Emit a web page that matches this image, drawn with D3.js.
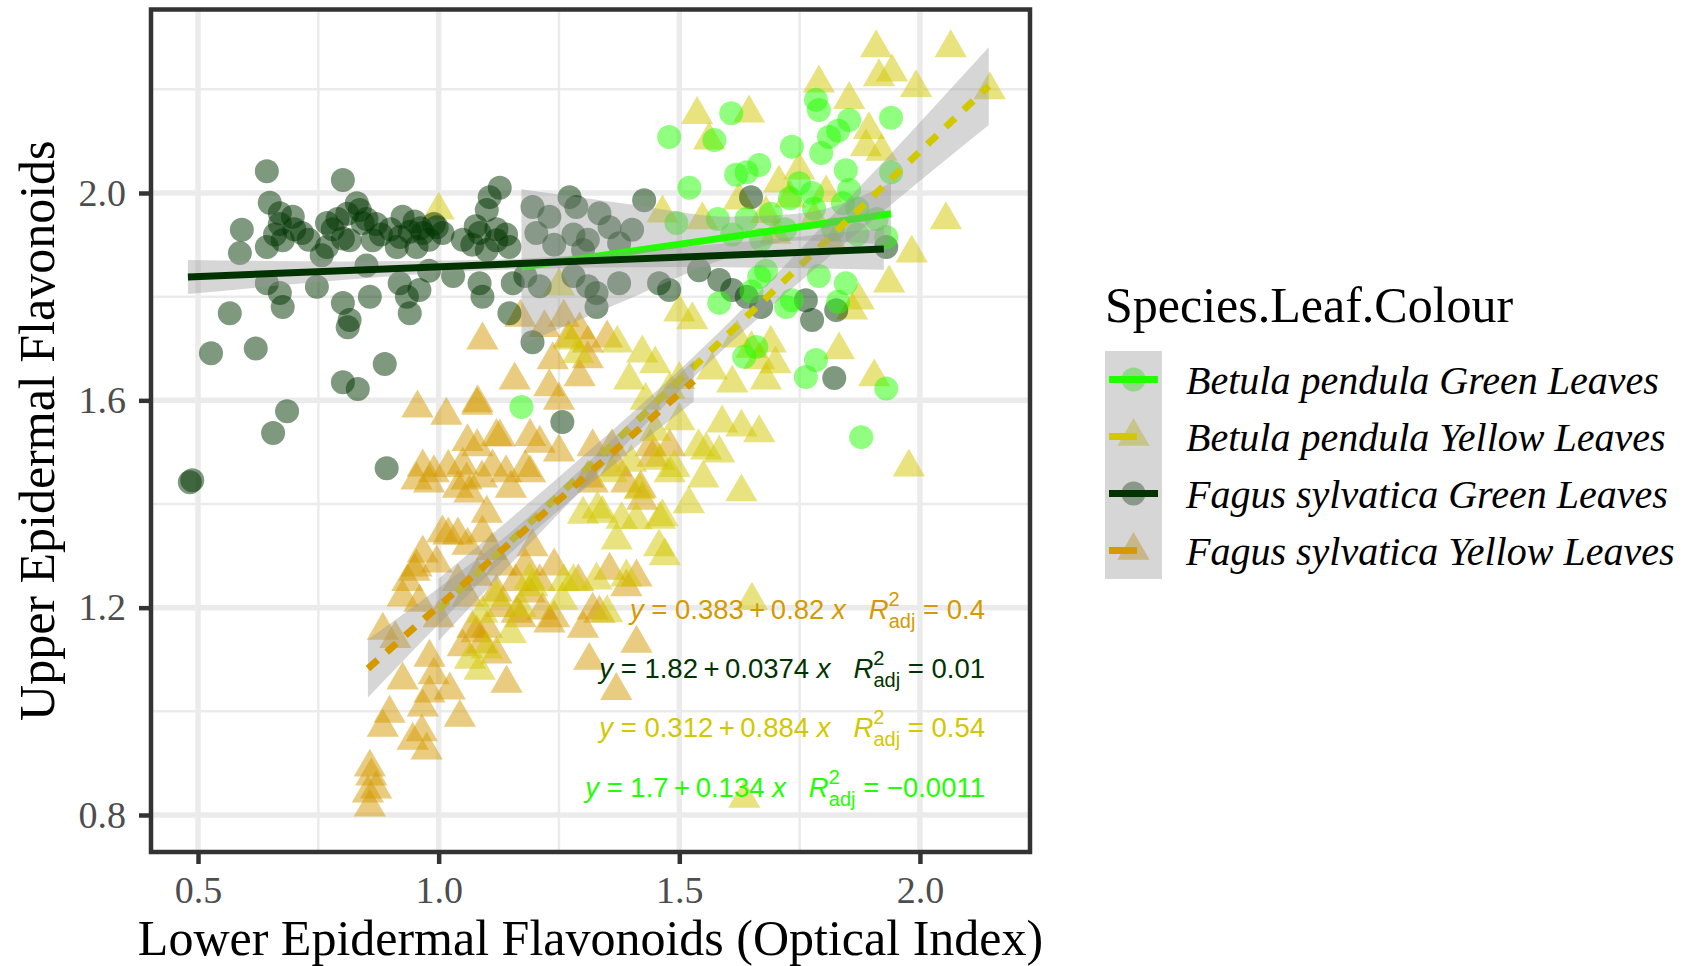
<!DOCTYPE html>
<html>
<head>
<meta charset="utf-8">
<script src="https://cdn.jsdelivr.net/npm/d3@7"></script>
<style>
  html, body { margin: 0; padding: 0; background: #ffffff; }
  svg { display: block; }
</style>
</head>
<body>
<svg id="chart" width="1683" height="966"></svg>
<script>
// ---- series definitions ----
const seriesNames = [
  "Betula pendula Green Leaves",
  "Betula pendula Yellow Leaves",
  "Fagus sylvatica Green Leaves",
  "Fagus sylvatica Yellow Leaves"
];
const legendTitle = "Species.Leaf.Colour";
const xTitle = "Lower Epidermal Flavonoids (Optical Index)";
const yTitle = "Upper Epidermal Flavonoids";

const xTicks = [0.5, 1.0, 1.5, 2.0];
const yTicks = [0.8, 1.2, 1.6, 2.0];
const xMinorTicks = [0.75, 1.25, 1.75];
const yMinorTicks = [1.0, 1.4, 1.8, 2.2];

// linear fits: y = intercept + slope * x
const fitIntercept = [1.7, 0.312, 1.82, 0.383];
const fitSlope = [0.134, 0.884, 0.0374, 0.82];
const fitR2 = ["\u22120.0011", "0.54", "0.01", "0.4"];
const fitXRange = [[1.172, 1.94], [1.0, 2.143], [0.479, 1.925], [0.853, 1.53]];

// confidence band half-widths at sampled x positions
const bandX = [
  [1.172, 1.4, 1.6, 1.75, 1.94],
  [1.0, 1.25, 1.55, 1.85, 2.143],
  [0.479, 0.8, 1.1, 1.5, 1.925],
  [0.853, 1.0, 1.15, 1.35, 1.53]
];
const bandHalf = [
  [0.15, 0.09, 0.04, 0.026, 0.06],
  [0.06, 0.035, 0.02, 0.04, 0.075],
  [0.033, 0.018, 0.01, 0.019, 0.04],
  [0.056, 0.035, 0.02, 0.025, 0.04]
];

// observations [lower, upper]
const betulaGreen = [
  [1.172,1.587],[1.479,2.108],[1.608,2.154],[1.573,2.102],[1.521,2.010],[1.618,2.035],[1.640,2.040],
  [1.666,2.054],[1.734,2.089],[1.790,2.160],[1.784,2.180],[1.811,2.108],[1.853,2.141],[1.830,2.120],
  [1.795,2.077],[1.940,2.145],[1.846,2.044],[1.749,2.019],[1.776,2.000],[1.853,2.006],[1.494,1.942],
  [1.666,1.838],[1.846,1.826],[1.583,1.788],[1.734,1.793],[1.930,1.915],[1.660,1.703],[1.635,1.684],
  [1.784,1.678],[1.763,1.645],[1.930,1.623],[1.878,1.529],[1.722,1.780],
  [1.580,1.950],[1.640,1.950],[1.690,1.960],[1.730,1.990],[1.780,1.970],[1.840,1.980],[1.870,1.970],
  [1.910,1.950],[1.610,1.920],[1.670,1.910],[1.720,1.930],[1.820,1.930],[1.870,1.920],[1.650,1.810],
  [1.680,1.850],[1.790,1.840],[1.830,1.790],[1.940,2.040]
];

const betulaYellow = [
  [1.909,2.280],[2.064,2.280],[1.537,2.151],[1.645,2.154],[1.562,2.102],[1.790,2.212],[1.915,2.224],
  [1.942,2.233],[1.992,2.203],[1.853,2.180],[1.894,2.122],[1.888,2.089],[1.920,2.080],[2.145,2.199],
  [2.054,1.948],[1.983,1.884],[1.936,1.826],[1.873,1.793],[1.707,2.019],[1.749,2.044],[1.624,1.986],
  [1.465,1.961],[1.548,1.948],[1.730,1.990],[1.805,2.000],[1.527,1.755],[1.500,1.770],
  [1.859,1.774],[1.832,1.697],[1.905,1.645],[1.589,1.556],[1.629,1.548],[1.666,1.537],[1.556,1.504],
  [1.583,1.498],[1.977,1.471],[1.629,1.423],[1.423,1.691],[1.371,1.710],[1.396,1.639],[1.450,1.670],
  [1.500,1.640],[1.568,1.658],[1.610,1.633],[1.680,1.639],[1.666,1.678],[1.700,1.670],[1.458,1.484],
  [1.480,1.460],[1.417,1.427],[1.465,1.375],[1.411,1.369],[1.340,1.382],[1.300,1.380],[1.458,1.317],
  [1.370,1.330],[1.390,1.259],[1.328,1.253],[1.651,1.214],[1.272,1.716],[1.290,1.690],[1.189,1.253],
  [1.260,1.250],[1.091,1.189],[1.085,1.079],[1.065,1.100],[1.195,1.240],[1.257,1.214],[1.635,0.832],
  [1.000,1.967],[1.360,1.460],[1.330,1.390],[1.380,1.370],[1.460,1.370],[1.470,1.300],[1.280,1.250],
  [1.170,1.200],[1.350,1.190],[1.540,1.510],[1.490,1.470],[1.400,1.480],[1.680,1.960],[1.780,1.950],
  [1.700,1.920],[1.820,1.900],[1.620,1.720],[1.650,1.700],[1.690,1.710],[1.500,1.560],[1.520,1.400],
  [1.550,1.450],[1.450,1.540],[1.430,1.600],[1.480,1.620],[1.120,1.220],[1.150,1.150],[1.100,1.120],
  [1.250,1.820]
];

const fagusGreen = [
  [0.643,2.042],[0.801,2.025],[1.127,2.010],[1.106,1.992],[0.649,1.981],[0.670,1.961],[0.697,1.954],
  [0.591,1.929],[0.716,1.923],[0.768,1.942],[0.836,1.967],[0.842,1.942],[0.815,1.909],[0.863,1.909],
  [0.925,1.954],[0.967,1.923],[0.996,1.934],[1.008,1.923],[0.954,1.896],[0.913,1.896],[1.100,1.967],
  [1.085,1.923],[1.120,1.909],[1.147,1.896],[1.077,1.936],[0.587,1.884],[0.643,1.896],[0.676,1.909],
  [0.768,1.896],[0.801,1.912],[0.757,1.880],
  [0.900,1.930],[0.920,1.915],[0.940,1.925],[0.950,1.945],[0.962,1.932],[0.980,1.910],[0.990,1.940],
  [0.880,1.920],[0.870,1.940],[0.780,1.930],[0.790,1.950],[0.810,1.960],[0.830,1.980],[0.850,1.950],
  [1.050,1.910],[1.070,1.900],[1.100,1.890],[1.120,1.930],[1.140,1.920],[0.700,1.930],[0.730,1.910],
  [0.660,1.920],[0.670,1.940],
  [0.643,1.826],[0.670,1.807],[0.676,1.780],[0.566,1.768],[0.747,1.819],[0.801,1.788],[0.815,1.755],
  [0.857,1.800],[0.919,1.826],[0.934,1.800],[0.940,1.768],[0.960,1.813],[1.085,1.826],[1.091,1.800],
  [1.154,1.826],[1.147,1.768],[0.980,1.850],[1.030,1.840],[0.850,1.860],
  [0.811,1.741],[1.195,1.712],[0.527,1.691],[0.620,1.700],[0.888,1.670],[0.801,1.635],[0.832,1.622],
  [0.685,1.579],[0.656,1.537],[0.892,1.469],[0.483,1.442],[0.488,1.446],[1.257,1.558],
  [1.195,1.973],[1.272,1.992],[1.230,1.954],[1.203,1.923],[1.280,1.920],[1.240,1.900],[1.300,1.890],
  [1.427,1.986],[1.286,1.973],[1.334,1.961],[1.355,1.934],[1.402,1.929],[1.310,1.910],[1.375,1.903],
  [1.328,1.807],[1.375,1.826],[1.458,1.826],[1.479,1.813],[1.541,1.851],[1.583,1.832],[1.610,1.813],
  [1.649,1.992],[1.763,1.793],[1.776,1.755],[1.826,1.774],[1.930,1.896],[1.328,1.780],[1.822,1.643],
  [1.640,1.800],[1.670,1.780],[1.280,1.840],[1.310,1.820],[1.180,1.840],[1.210,1.820]
];

const fagusYellow = [
  [1.091,1.716],[1.158,1.639],[1.081,1.595],[0.956,1.585],[1.016,1.571],[1.127,1.529],[1.060,1.520],
  [0.967,1.471],[0.990,1.460],[1.050,1.475],[1.112,1.471],[1.140,1.460],[1.237,1.678],[1.230,1.626],
  [1.250,1.600],[0.954,1.446],[1.058,1.446],[1.090,1.450],[1.190,1.460],[1.064,1.421],[1.100,1.382],
  [1.210,1.517],[1.190,1.530],[1.250,1.500],[1.008,1.344],[1.040,1.340],[0.967,1.305],[0.996,1.286],
  [0.954,1.278],[1.091,1.344],[1.110,1.310],[1.195,1.317],[1.180,1.280],[1.240,1.280],[0.925,1.220],
  [1.120,1.230],[1.189,1.228],[1.216,1.195],
  [1.369,1.471],[1.444,1.490],[1.480,1.510],[1.420,1.430],[1.293,1.645],[1.270,1.720],[1.293,1.736],
  [1.310,1.680],[1.350,1.720],[1.320,1.440],[1.390,1.440],[1.423,1.407],[1.290,1.250],[1.355,1.272],
  [1.411,1.259],[1.334,1.189],
  [0.884,1.156],[0.910,1.140],[0.981,1.104],[0.925,1.060],[0.898,0.996],[0.884,0.969],[0.967,1.008],
  [0.981,1.035],[0.990,1.070],[1.023,1.041],[1.044,0.988],[0.946,0.944],[0.975,0.925],[0.965,0.960],
  [0.857,0.892],[0.860,0.875],[0.853,0.842],[0.857,0.815],[0.870,0.850],[1.050,1.124],[1.079,1.151],
  [1.100,1.160],[1.141,1.054],[1.162,1.189],[1.230,1.170],[0.935,1.250],[0.950,1.270],
  [1.390,1.240],[1.320,1.195],[1.411,1.131],[1.313,1.098],[1.369,1.040],
  [1.080,1.590],[1.120,1.530],[1.080,1.510],[1.020,1.470],[1.180,1.470],[0.980,1.440],[1.040,1.430],
  [1.150,1.430],[1.320,1.510],[1.360,1.510],[1.440,1.510],[1.310,1.450],[1.020,1.340],[1.060,1.320],
  [1.040,1.250],[1.080,1.260],[1.130,1.280],[1.160,1.250],[0.960,1.210],[1.000,1.180],[1.060,1.220],
  [1.130,1.200],[1.170,1.180],[1.240,1.180],[1.210,1.250],[1.070,1.160],[1.090,1.130],[1.120,1.110],
  [1.300,1.160],[1.220,1.740],[1.260,1.760],[1.310,1.710],[1.170,1.760]
];

const seriesPoints = [betulaGreen, betulaYellow, fagusGreen, fagusYellow];
const seriesColors = ["#22ff00", "#d2c800", "#003300", "#d49a00"];
const seriesShapes = ["circle", "triangle", "circle", "triangle"];
const seriesDashed = [false, true, false, true];

// ---- layout ----
const panel = { left: 151, right: 1030, top: 9.5, bottom: 852 };
const serif = "'Liberation Serif', 'Times New Roman', serif";
const sans = "'Liberation Sans', Arial, sans-serif";

const svg = d3.select("#chart");

const x = d3.scaleLinear().domain([0.4023, 2.2287]).range([panel.left, panel.right]);
const y = d3.scaleLinear().domain([0.7286, 2.354]).range([panel.bottom, panel.top]);

svg.append("defs").append("clipPath").attr("id", "panelClip")
  .append("rect")
  .attr("x", panel.left).attr("y", panel.top)
  .attr("width", panel.right - panel.left).attr("height", panel.bottom - panel.top);

// ---- grid ----
const grid = svg.append("g").attr("clip-path", "url(#panelClip)");
grid.selectAll("line.xminor").data(xMinorTicks).join("line")
  .attr("x1", d => x(d)).attr("x2", d => x(d))
  .attr("y1", panel.top).attr("y2", panel.bottom)
  .attr("stroke", "#ebebeb").attr("stroke-width", 2.5);
grid.selectAll("line.yminor").data(yMinorTicks).join("line")
  .attr("y1", d => y(d)).attr("y2", d => y(d))
  .attr("x1", panel.left).attr("x2", panel.right)
  .attr("stroke", "#ebebeb").attr("stroke-width", 2.5);
grid.selectAll("line.xmajor").data(xTicks).join("line")
  .attr("x1", d => x(d)).attr("x2", d => x(d))
  .attr("y1", panel.top).attr("y2", panel.bottom)
  .attr("stroke", "#ebebeb").attr("stroke-width", 5.5);
grid.selectAll("line.ymajor").data(yTicks).join("line")
  .attr("y1", d => y(d)).attr("y2", d => y(d))
  .attr("x1", panel.left).attr("x2", panel.right)
  .attr("stroke", "#ebebeb").attr("stroke-width", 5.5);

// ---- points ----
const triangle = d3.symbol().type(d3.symbolTriangle).size(450);
const plot = svg.append("g").attr("clip-path", "url(#panelClip)");
const drawOrder = [3, 1, 2, 0];
drawOrder.forEach(i => {
  const g = plot.append("g").attr("fill", seriesColors[i]).attr("fill-opacity", 0.5);
  if (seriesShapes[i] === "circle") {
    g.selectAll("circle").data(seriesPoints[i]).join("circle")
      .attr("cx", d => x(d[0])).attr("cy", d => y(d[1])).attr("r", 12);
  } else {
    g.selectAll("path").data(seriesPoints[i]).join("path")
      .attr("d", triangle)
      .attr("transform", d => `translate(${x(d[0])},${y(d[1])})`);
  }
});

// ---- fitted lines with confidence bands ----
const fit = i => v => fitIntercept[i] + fitSlope[i] * v;
seriesNames.forEach((name, i) => {
  const f = fit(i);
  const band = bandX[i].map((bx, j) => ({ x: bx, lo: f(bx) - bandHalf[i][j], hi: f(bx) + bandHalf[i][j] }));
  plot.append("path")
    .datum(band)
    .attr("d", d3.area().x(d => x(d.x)).y0(d => y(d.lo)).y1(d => y(d.hi)).curve(d3.curveMonotoneX))
    .attr("fill", "#999999").attr("fill-opacity", 0.4);
  const ends = fitXRange[i].map(v => [v, f(v)]);
  plot.append("path")
    .datum(ends)
    .attr("d", d3.line().x(d => x(d[0])).y(d => y(d[1])))
    .attr("fill", "none")
    .attr("stroke", seriesColors[i])
    .attr("stroke-width", 7)
    .attr("stroke-dasharray", seriesDashed[i] ? "13,12" : null);
});

// ---- regression labels ----
const labelOrder = [3, 2, 1, 0];
const labelBaselines = [619, 678, 737, 797];
const thin = "\u2009";
labelOrder.forEach((i, k) => {
  const t = svg.append("text")
    .attr("x", 985).attr("y", labelBaselines[k])
    .attr("text-anchor", "end")
    .attr("fill", seriesColors[i])
    .style("font-family", sans).style("font-size", "27.5px")
    .style("white-space", "pre");
  t.append("tspan").style("font-style", "italic").text("y");
  t.append("tspan").text(` = ${fitIntercept[i]}${thin}+${thin}${fitSlope[i]} `);
  t.append("tspan").style("font-style", "italic").text("x");
  t.append("tspan").text("   ");
  t.append("tspan").style("font-style", "italic").text("R");
  t.append("tspan").attr("dy", -13).style("font-size", "20px").text("2");
  t.append("tspan").attr("dx", -11).attr("dy", 22).style("font-size", "20px").text("adj");
  t.append("tspan").attr("dy", -9).text(` = ${fitR2[i]}`);
});

// ---- panel border ----
svg.append("rect")
  .attr("x", panel.left).attr("y", panel.top)
  .attr("width", panel.right - panel.left).attr("height", panel.bottom - panel.top)
  .attr("fill", "none").attr("stroke", "#333333").attr("stroke-width", 4.5);

// ---- axes ----
const xAxis = svg.append("g")
  .attr("transform", `translate(0,${panel.bottom})`)
  .call(d3.axisBottom(x).tickValues(xTicks).tickFormat(d3.format(".1f")).tickSize(12).tickPadding(12));
const yAxis = svg.append("g")
  .attr("transform", `translate(${panel.left},0)`)
  .call(d3.axisLeft(y).tickValues(yTicks).tickFormat(d3.format(".1f")).tickSize(12).tickPadding(13));
[xAxis, yAxis].forEach(ax => {
  ax.select(".domain").remove();
  ax.selectAll(".tick line").attr("stroke", "#333333").attr("stroke-width", 4.5);
  ax.selectAll(".tick text").attr("fill", "#4d4d4d")
    .style("font-family", serif).style("font-size", "38px");
});

// ---- axis titles ----
svg.append("text")
  .attr("x", (panel.left + panel.right) / 2).attr("y", 955)
  .attr("text-anchor", "middle")
  .style("font-family", serif).style("font-size", "50px").attr("fill", "#000")
  .text(xTitle);
svg.append("text")
  .attr("transform", `translate(54,${(panel.top + panel.bottom) / 2}) rotate(-90)`)
  .attr("text-anchor", "middle")
  .style("font-family", serif).style("font-size", "50px").attr("fill", "#000")
  .text(yTitle);

// ---- legend ----
const legend = svg.append("g");
legend.append("text")
  .attr("x", 1105).attr("y", 322)
  .style("font-family", serif).style("font-size", "50px").attr("fill", "#000")
  .text(legendTitle);
const keyX = 1105, keyW = 57, keyH = 57, keyTop = 351;
seriesNames.forEach((name, i) => {
  const cy = keyTop + keyH * i + keyH / 2;
  const cx = keyX + keyW / 2;
  const key = legend.append("g");
  if (seriesShapes[i] === "circle") {
    key.append("circle").attr("cx", cx).attr("cy", cy).attr("r", 12)
      .attr("fill", seriesColors[i]).attr("fill-opacity", 0.5);
  } else {
    key.append("path").attr("d", triangle).attr("transform", `translate(${cx},${cy})`)
      .attr("fill", seriesColors[i]).attr("fill-opacity", 0.5);
  }
  key.append("rect").attr("x", keyX).attr("y", keyTop + keyH * i)
    .attr("width", keyW).attr("height", keyH)
    .attr("fill", "#999999").attr("fill-opacity", 0.4);
  key.append("line")
    .attr("x1", keyX + 4).attr("x2", keyX + keyW - 4)
    .attr("y1", cy).attr("y2", cy)
    .attr("stroke", seriesColors[i]).attr("stroke-width", 7)
    .attr("stroke-dasharray", seriesDashed[i] ? "28,40" : null);
  legend.append("text")
    .attr("x", 1186).attr("y", cy + 14)
    .style("font-family", serif).style("font-size", "40px").style("font-style", "italic")
    .attr("fill", "#000")
    .text(name);
});
</script>
</body>
</html>
